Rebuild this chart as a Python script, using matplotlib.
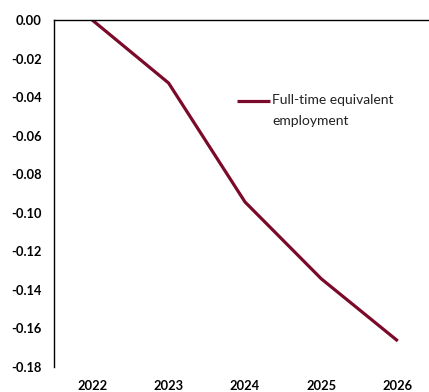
import matplotlib
matplotlib.use("Agg")
import matplotlib.pyplot as plt

years = ["2022", "2023", "2024", "2025", "2026"]
fte_employment = [0.0, -0.0327, -0.0944, -0.1343, -0.1665]
y_ticks = [0.00, -0.02, -0.04, -0.06, -0.08, -0.10, -0.12, -0.14, -0.16, -0.18]
series_label = "Full-time equivalent\nemployment"
line_color = "#7B0A2A"

plt.rcParams["font.family"] = ["Lato", "DejaVu Sans"]

W, H = 429, 392
fig = plt.figure(figsize=(W / 100, H / 100), dpi=100)
ax = fig.add_axes([54 / W, (H - 367) / H, (436 - 54) / W, 347 / H])

x = list(range(len(years)))
ax.plot(x, fte_employment, color=line_color, linewidth=2.3,
        solid_capstyle="butt")

ax.set_xlim(-0.5, len(years) - 0.5)
ax.set_ylim(-0.18, 0.0)
ax.set_xticks(x)
ax.set_xticklabels(years)
ax.set_yticks(y_ticks)
ax.set_yticklabels([f"{v:.2f}" for v in y_ticks])

for side in ("right", "bottom"):
    ax.spines[side].set_visible(False)
for side in ("left", "top"):
    ax.spines[side].set_linewidth(1.0)
    ax.spines[side].set_color("black")

ax.tick_params(axis="both", length=0, labelsize=9.3, colors="black")
ax.tick_params(axis="x", pad=9)
ax.tick_params(axis="y", pad=9)
for lbl in ax.get_xticklabels() + ax.get_yticklabels():
    lbl.set_fontweight("bold")

# legend key: short line with the label, first text line level with the line
key_y = 1 - (101 - 20) / 347
x0, x1, xt = (237 - 54) / 382, (270 - 54) / 382, (272 - 54) / 382
ax.plot([x0, x1], [key_y, key_y], transform=ax.transAxes, color=line_color,
        linewidth=2.3, solid_capstyle="butt", clip_on=False)
ax.text(xt, key_y + 0.019, series_label, transform=ax.transAxes,
        fontsize=10, va="top", ha="left", linespacing=1.9, color="#222222")

fig.savefig("out.png", dpi=100)
